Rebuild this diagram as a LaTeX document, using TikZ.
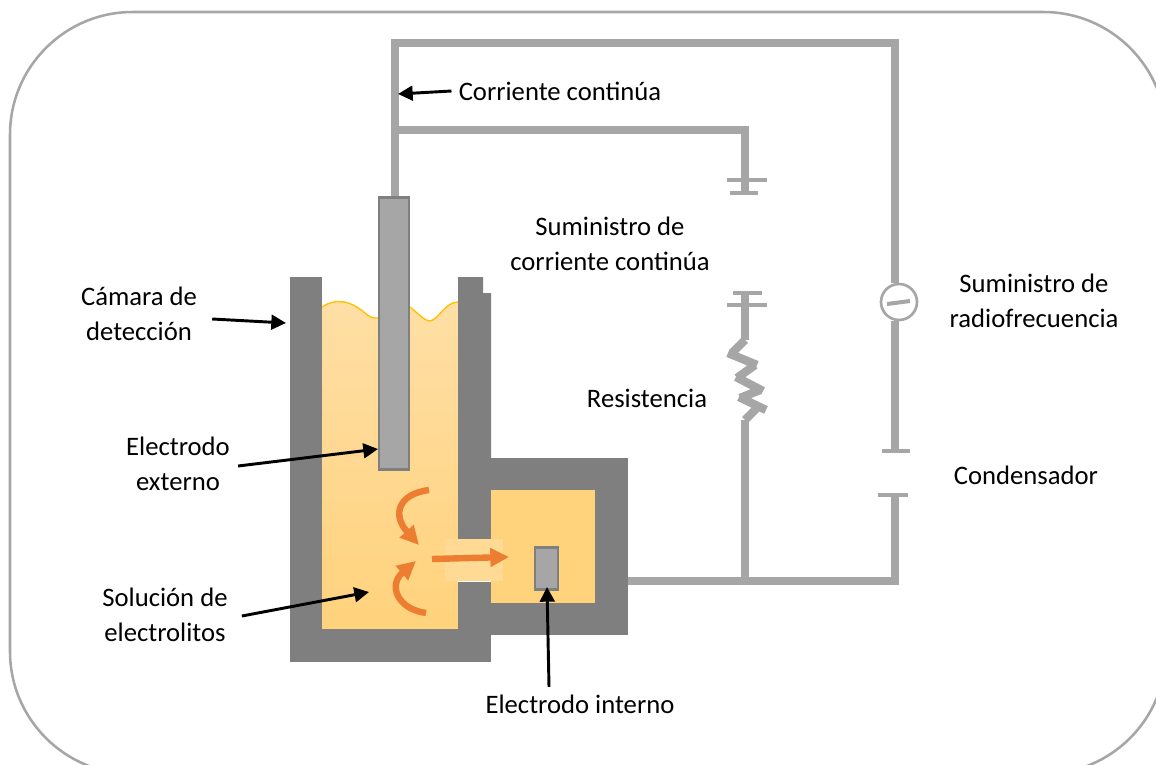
\documentclass[tikz,border=0pt]{standalone}
\usepackage{fontspec}
\setmainfont{Carlito}
\usetikzlibrary{arrows.meta}
\usetikzlibrary{positioning}
\definecolor{wiregray}{HTML}{A6A6A6}
\definecolor{wallgray}{HTML}{7F7F7F}
\definecolor{liquidtop}{HTML}{FFDFA6}
\definecolor{liquidbottom}{HTML}{FFD27C}
\definecolor{wavegold}{HTML}{FFC000}
\definecolor{flow}{HTML}{ED7D31}
\tikzset{
  wire/.style={draw=wiregray, line width=6.3pt},
  plate/.style={draw=wiregray, line width=3pt},
  wall/.style={fill=wallgray, draw=none},
  electrode/.style={fill=wiregray, draw=wallgray, line width=1.6pt},
  callout/.style={-{Triangle[length=11pt,width=11pt]}, line width=2.2pt, black},
  flowarrow/.style={-{Triangle[length=14pt,width=13.5pt]}, draw=flow, line width=4.8pt},
  lbl/.style={align=center, font=\fontsize{20}{26.2}\selectfont, inner sep=0pt},
}
\begin{document}
\begin{tikzpicture}[x=0.75pt, y=-0.75pt]
  \clip (0,0) rectangle (1156,764);
  \draw[wiregray, line width=1.9pt, rounded corners=92pt] (10,12) rectangle (1166,774);

  % liquid
  \shade[top color=liquidtop, bottom color=liquidbottom]
    (322,307) .. controls (335,298) and (350,300) .. (365,313)
    .. controls (372,319) and (375,318) .. (378,318) -- (410,307)
    .. controls (420,315) and (425,321) .. (430,321)
    .. controls (438,320) and (445,302) .. (458,302) -- (458,629) -- (322,629) -- cycle;
  \draw[wavegold, line width=1pt]
    (322,307) .. controls (335,298) and (350,300) .. (365,313)
    .. controls (372,319) and (375,318) .. (378,318);
  \draw[wavegold, line width=1pt] (410,307)
    .. controls (420,315) and (425,321) .. (430,321)
    .. controls (438,320) and (445,302) .. (458,302);

  % detection chamber walls
  \fill[wall] (290,277) rectangle (322,662);
  \fill[wall] (290,629) rectangle (491,662);
  \fill[wall] (458,277) -- (483,277) -- (483,293) -- (491,293) -- (491,539) -- (458,539) -- cycle;
  \fill[wall] (458,582) rectangle (491,662);
  \fill[wall] (491,458) rectangle (628,635);
  \fill[liquidbottom] (491,490) rectangle (595,603);
  \fill[liquidtop!60!liquidbottom] (445,539) rectangle (503,581);

  % electrodes
  \node[electrode, minimum width=22.5pt, minimum height=204pt, inner sep=0pt] (outerel) at (394,333.5) {};
  \node[electrode, minimum width=17.5pt, minimum height=31.5pt, inner sep=0pt] (innerel) at (546.5,568.5) {};

  % circuit
  \coordinate (topleft) at (395,43);
  \coordinate (topright) at (895,43);
  \coordinate (branch) at (395,130);
  \coordinate (branchright) at (745,130);
  \coordinate (platea) at (745,193);
  \coordinate (plateb) at (745,293);
  \coordinate (resin) at (745,340);
  \coordinate (resout) at (745,420);
  \coordinate (join) at (745,585);
  \coordinate (capa) at (895,451);
  \coordinate (capb) at (895,495);
  \coordinate (botright) at (895,581);
  \coordinate (chamberout) at (628,581);
  \node[circle, draw=wiregray, fill=white, line width=2pt, minimum size=27pt, inner sep=0pt] (rfsource) at (899,302) {};

  \draw[wire, line join=miter] (outerel.north -| topleft) -- (topleft) -- (topright) -- (rfsource.north -| topright);
  \draw[wire] (rfsource.south -| topright) -- (capa);
  \draw[wire, line join=miter] (capb) -- (botright) -- (chamberout);
  \draw[wire, line join=miter] (branch) -- (branchright) -- (platea);
  \draw[plate] (727,180) -- (767,180);
  \draw[plate] (730,193) -- (758,193);
  \draw[plate] (733,293) -- (762,293);
  \draw[plate] (727,305) -- (767,305);
  \draw[plate] (882,451) -- (910,451);
  \draw[plate] (878,495) -- (908,495);
  \draw[wire] (plateb) -- (resin);
  \draw[wire] (resout) -- (join);
  % resistor, one stroke at a time
  \draw[wire] (resin) -- (732,353) (728,353) -- (757,365) (755,365) -- (737,378)
    (736,377) -- (763,391) (760,390) -- (740,398) (739,397) -- (766,410) (757,408) -- (resout);
  \draw[plate] (887,304) -- (910,301);

  % flow
  \coordinate (swirlatop) at (429,490);
  \coordinate (swirlahead) at (419,545);
  \coordinate (swirlbtop) at (426,613);
  \coordinate (swirlbhead) at (416,561);
  \coordinate (jetin) at (432,559);
  \coordinate (jetout) at (509,557);
  \draw[flowarrow] (swirlatop) .. controls (398,494) and (392,515) .. (swirlahead);
  \draw[flowarrow] (swirlbtop) .. controls (397,609) and (388,585) .. (swirlbhead);
  \draw[flowarrow] (jetin) -- (jetout);

  % labels
  \node[lbl] (dccurrent) at (560,91) {Corriente continúa};
  \node[lbl] (dcsupply) at (610,243.5) {Suministro de\\corriente continúa};
  \node[lbl] (rfsupply) at (1034,301) {Suministro de\\radiofrecuencia};
  \node[lbl] (resistor) at (647,398.5) {Resistencia};
  \node[lbl] (capacitor) at (1026,475.5) {Condensador};
  \node[lbl] (chamber) at (139,314) {Cámara de\\detección};
  \node[lbl] (outerlbl) at (178,464) {Electrodo\\externo};
  \node[lbl] (solution) at (165,615) {Solución de\\electrolitos};
  \node[lbl] (innerlbl) at (580,704.5) {Electrodo interno};

  % callouts
  \coordinate (wirepoint) at (398,94);
  \coordinate (wallpoint) at (286,323);
  \coordinate (outerpoint) at (378,449);
  \coordinate (liquidpoint) at (369,592);
  \coordinate (innerpoint) at (547,587);
  \draw[callout] (dccurrent.west) ++(-7,0) -- (wirepoint);
  \draw[callout] (chamber.east) ++(15,5) -- (wallpoint);
  \draw[callout] (outerlbl.east) ++(8,2) -- (outerpoint);
  \draw[callout] (solution.east) ++(14,1) -- (liquidpoint);
  \draw[callout] (innerlbl.north -| 549,0) ++(0,-8) -- (innerpoint);
\end{tikzpicture}
\end{document}
